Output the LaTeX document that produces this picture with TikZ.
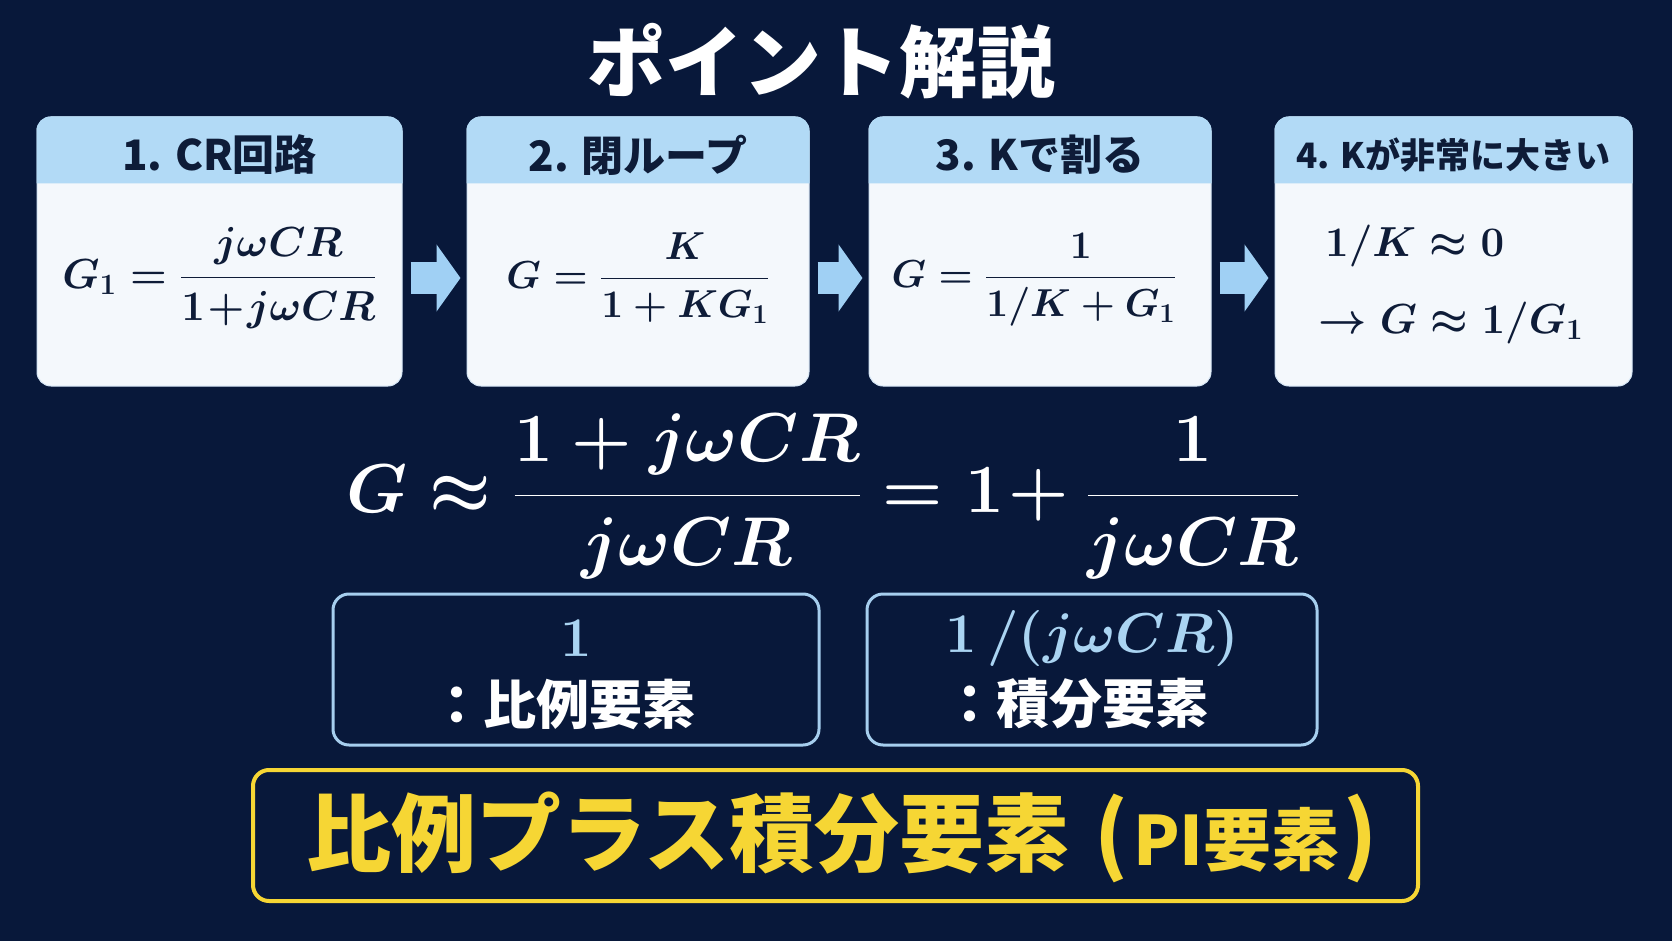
\RequirePackage{fix-cm}
\documentclass[tikz,border=0pt]{standalone}
\usepackage{amsmath}
\usepackage{fontspec}
\usetikzlibrary{arrows.meta}
\newfontfamily\jpfont{Noto Sans CJK JP}

\definecolor{bgnavy}{RGB}{8,24,58}
\definecolor{headblue}{RGB}{178,218,246}
\definecolor{cardwhite}{RGB}{244,248,252}
\definecolor{cardedge}{RGB}{214,230,245}
\definecolor{inknavy}{RGB}{14,28,56}
\definecolor{arrowblue}{RGB}{160,208,244}
\definecolor{lineblue}{RGB}{166,206,238}
\definecolor{softblue}{RGB}{170,212,242}
\definecolor{gold}{RGB}{246,214,52}

\tikzset{
	stepbody/.style={fill=cardwhite, draw=cardedge, line width=1pt, rounded corners=14pt, minimum height=269pt, inner sep=0pt},
	headtext/.style={text=inknavy, font=\jpfont\bfseries\fontsize{42}{46}\selectfont},
	mathtext/.style={text=inknavy, font=\fontsize{#1}{50}\selectfont\boldmath, inner sep=0pt},
	mathtext/.default=42,
	bigarrow/.style={arrowblue, line width=32pt, -{Triangle[length=24pt,width=66pt]}, shorten <=8pt, shorten >=6pt},
	partbox/.style={draw=lineblue, line width=3pt, rounded corners=16pt, minimum width=#1, minimum height=151pt, inner sep=0pt},
	parttext/.style={text=white, font=\jpfont\bfseries\fontsize{53}{56}\selectfont},
	partmath/.style={text=softblue, font=\fontsize{56}{62}\selectfont\boldmath, inner sep=0pt}
}

\begin{document}
\begin{tikzpicture}[x=1pt,y=-1pt]
		\useasboundingbox (0,0) rectangle (1672,941);
		\fill [bgnavy] (0,0) rectangle (1672,941);
		% title
		\node [text=white, font=\jpfont\bfseries\fontsize{78}{84}\selectfont] (title) at (821,61) {ポイント解説};
		% four steps
		\node [stepbody, minimum width=365pt] (s1) at (219.5,251.5) {};
		\node [stepbody, minimum width=342pt] (s2) at (638,251.5) {};
		\node [stepbody, minimum width=342pt] (s3) at (1040,251.5) {};
		\node [stepbody, minimum width=357pt] (s4) at (1453.5,251.5) {};
		\foreach \s in {s1,s2,s3,s4} {
			\fill [headblue, rounded corners=14pt] ([yshift=-67pt]\s.north west) -- (\s.north west) -- (\s.north east) -- ([yshift=-67pt]\s.north east);
		}
		\node [headtext] (h1) at (219.5,155) {1. CR回路};
		\node [headtext] (h2) at (638,155) {2. 閉ループ};
		\node [headtext] (h3) at (1040,155) {3. Kで割る};
		\node [headtext, font=\jpfont\bfseries\fontsize{35}{40}\selectfont] (h4) at (1453.5,155) {4. Kが非常に大きい};
		\node [mathtext] (g1) at (219.5,278) {$\displaystyle G_1 = \frac{j\omega CR}{1\!+\!j\omega CR}$};
		\node [mathtext=39] (g2) at (638,278) {$\displaystyle G = \frac{K}{1+KG_1}$};
		\node [mathtext=39] (g3) at (1034,280) {$\displaystyle G = \frac{1}{1/K+G_1}$};
		\node [mathtext, anchor=west] (g4a) at (1325,246) {$1/K \approx 0$};
		\node [mathtext, anchor=west] (g4b) at (1318,323) {$\rightarrow G \approx 1/G_1$};
		\draw [bigarrow] (s1.east |- g1) -- (s2.west |- g1);
		\draw [bigarrow] (s2.east |- g1) -- (s3.west |- g1);
		\draw [bigarrow] (s3.east |- g1) -- (s4.west |- g1);
		% result
		\node [text=white, font=\fontsize{69}{76}\selectfont\boldmath, inner sep=0pt] (res) at (823,496) {$G \approx \dfrac{1 + j\omega CR}{j\omega CR} = 1\!+ \dfrac{1}{j\omega CR}$};
		\node [partbox=486pt] (pa) at (576,669.5) {};
		\node [partbox=450pt] (pb) at (1092,669.5) {};
		\node [partmath] (ma) at (pa |- 0,638) {$1$};
		\node [parttext] (ta) at ([xshift=-13pt]pa |- 0,704) {：比例要素};
		\node [partmath] (mb) at (pb |- 0,638) {$1\,/(j\omega CR)$};
		\node [parttext] (tb) at ([xshift=-16pt]pb |- 0,704) {：積分要素};
		% conclusion
		\node [draw=gold, line width=4pt, rounded corners=16pt, minimum width=1165pt, minimum height=131pt] (pi) at (835.5,835.5) {};
		\node [text=gold, font=\jpfont\bfseries\fontsize{85}{90}\selectfont] (pitext) at (842,837) {比例プラス積分要素\hspace{0.3em}(\hspace{0.05em}{\fontsize{68}{70}\selectfont PI要素}\hspace{0.05em})};
	\end{tikzpicture}
\end{document}
